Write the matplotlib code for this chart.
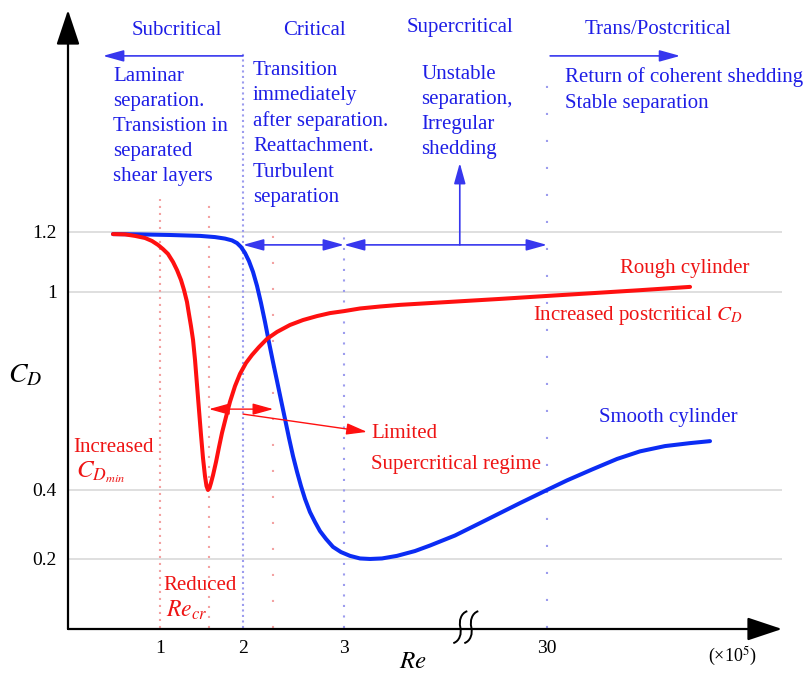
import numpy as np
import matplotlib
matplotlib.use("Agg")
import matplotlib.pyplot as plt
from matplotlib.path import Path
from matplotlib.patches import PathPatch
from matplotlib.transforms import ScaledTranslation, blended_transform_factory

plt.rcParams['font.family'] = ['Liberation Serif', 'DejaVu Serif']
plt.rcParams['mathtext.fontset'] = 'stix'

W, H = 808, 673

# ---- drag coefficient curves (Re in units of 1e5) ----
rough_re = [0.489, 0.620, 0.728, 0.837, 0.913, 0.978, 1.036, 1.096, 1.157, 1.205,
            1.253, 1.289, 1.325, 1.349, 1.373, 1.398, 1.422, 1.446, 1.470, 1.494,
            1.518, 1.542, 1.560, 1.578, 1.596, 1.614, 1.639, 1.675, 1.711, 1.747,
            1.795, 1.843, 1.904, 1.964, 2.030, 2.089, 2.158, 2.238, 2.337, 2.465,
            2.594, 2.733, 2.861, 3.0, 5.13, 7.79, 10.45, 17.10, 23.75,
            30.0, 35.49, 41.87, 48.26]
rough_cd = [1.193, 1.192, 1.187, 1.180, 1.170, 1.157, 1.143, 1.127, 1.100, 1.073,
            1.040, 1.007, 0.970, 0.933, 0.897, 0.855, 0.794, 0.718, 0.642, 0.567,
            0.497, 0.442, 0.412, 0.400, 0.406, 0.421, 0.445, 0.485, 0.530, 0.573,
            0.621, 0.667, 0.715, 0.752, 0.785, 0.809, 0.833, 0.858, 0.879, 0.900,
            0.915, 0.927, 0.936, 0.942, 0.950, 0.956, 0.961, 0.970, 0.979,
            0.988, 0.996, 1.006, 1.017]

smooth_re = [0.489, 0.783, 1.120, 1.482, 1.663, 1.783, 1.867, 1.928, 1.976, 2.020,
             2.059, 2.099, 2.139, 2.178, 2.218, 2.257, 2.297, 2.337, 2.376, 2.416,
             2.455, 2.495, 2.535, 2.574, 2.614, 2.663, 2.713, 2.762, 2.822, 2.891,
             2.970, 3.80, 5.13, 6.46, 8.05, 10.05, 12.44, 14.44, 17.76, 21.09,
             23.75, 26.41, 30.0, 32.55, 35.74, 38.94, 41.87, 45.06, 48.26, 50.81]
smooth_cd = [1.193, 1.192, 1.190, 1.187, 1.183, 1.178, 1.172, 1.163, 1.150, 1.130,
             1.103, 1.067, 1.020, 0.967, 0.909, 0.848, 0.788, 0.730, 0.673, 0.615,
             0.558, 0.503, 0.455, 0.412, 0.374, 0.336, 0.307, 0.281, 0.258, 0.235,
             0.220, 0.209, 0.2015, 0.200, 0.2015, 0.209, 0.223, 0.239, 0.268, 0.304,
             0.333, 0.362, 0.400, 0.429, 0.462, 0.494, 0.517, 0.533, 0.542, 0.548]

re_ticks = [1, 2, 3, 30]
re_tick_labels = ['1', '2', '3', '30']
cd_ticks = [0.2, 0.4, 1.0, 1.2]
cd_tick_labels = ['0.2', '0.4', '1', '1.2']

# regime boundaries: Re, top of guide in C_D, dot spacing in px
smooth_bounds = [2, 3, 30]
smooth_bound_tops = [1.80, 1.20, 1.757]
smooth_bound_spacing = [5.5, 10.5, 27]
rough_bounds = [1, 1.59, 2.30]
rough_bound_tops = [1.31, 1.31, 1.217]
rough_bound_spacing = [7, 10, 26]

LINE_BLUE = '#0b2cf4'
LINE_RED = '#ff1010'
TEXT_BLUE = '#1e1ee6'
TEXT_RED = '#ee1414'
ARROW_BLUE = '#3737ee'
DOT_BLUE = '#9c9cee'
DOT_RED = '#f3a2a2'
GRID = '#d9d9d9'

# schematic (broken) axes: piecewise-linear mapping to screen pixels
RE_KNOTS = [-1, 0, 1, 2, 3, 30, 60]
RE_PIX = [-24, 68, 160, 243, 344, 547, 782]
CD_KNOTS = [-0.1, 0, 0.2, 0.4, 1.0, 1.2, 2.0]
CD_PIX = [10.5, 45, 114, 183, 381, 441, 681]


def re_fwd(v):
    return np.interp(v, RE_KNOTS, RE_PIX)


def re_inv(p):
    return np.interp(p, RE_PIX, RE_KNOTS)


def cd_fwd(v):
    return np.interp(v, CD_KNOTS, CD_PIX)


def cd_inv(p):
    return np.interp(p, CD_PIX, CD_KNOTS)


fig = plt.figure(figsize=(W / 100, H / 100), dpi=100)
ax = fig.add_axes([68 / W, (H - 629) / H, (782 - 68) / W, (629 - 10) / H])
ax.set_xscale('function', functions=(re_fwd, re_inv))
ax.set_yscale('function', functions=(cd_fwd, cd_inv))
ax.set_xlim(0, 60)
ax.set_ylim(-0.003, 1.94)

for s in ax.spines.values():
    s.set_visible(False)

ax.set_xticks(re_ticks, re_tick_labels)
ax.set_yticks(cd_ticks, cd_tick_labels)
ax.tick_params(length=0, labelsize=14, pad=8)
ax.xaxis.set_minor_locator(matplotlib.ticker.NullLocator())
ax.yaxis.set_minor_locator(matplotlib.ticker.NullLocator())
ax.grid(axis='y', color=GRID, lw=1.2, zorder=0)
ax.set_axisbelow(True)

# regime guide lines
px_per_pt = 100 / 72
for xv, top, sp in zip(rough_bounds, rough_bound_tops, rough_bound_spacing):
    ax.plot([xv, xv], [0, top], color=DOT_RED, lw=1.5,
            ls=(0, (1, sp / (1.5 * px_per_pt) - 1)), zorder=1)
for xv, top, sp in zip(smooth_bounds, smooth_bound_tops, smooth_bound_spacing):
    ax.plot([xv, xv], [0, top], color=DOT_BLUE, lw=1.5,
            ls=(0, (1, sp / (1.5 * px_per_pt) - 1)), zorder=1)

# curves
ax.plot(rough_re, rough_cd, color=LINE_RED, lw=2.9, solid_joinstyle='round',
        solid_capstyle='round', zorder=4)
ax.plot(smooth_re, smooth_cd, color=LINE_BLUE, lw=2.9, solid_joinstyle='round',
        solid_capstyle='round', zorder=3)


def arrow(x0, y0, x1, y1, color, style, lw=1.2, ms=14):
    ax.annotate('', xy=(x1, y1), xytext=(x0, y0),
                arrowprops=dict(arrowstyle=style, color=color, lw=lw,
                                shrinkA=0, shrinkB=0, mutation_scale=ms),
                annotation_clip=False, zorder=5)


head = '-|>,head_length=0.9,head_width=0.25'
dbl = '<|-|>,head_length=0.9,head_width=0.25'
# regime arrows
arrow(2, 1.787, 0.38, 1.787, ARROW_BLUE, head)
arrow(30.4, 1.787, 47.0, 1.787, ARROW_BLUE, head)
arrow(2, 1.157, 3, 1.157, ARROW_BLUE, dbl)
arrow(3, 1.157, 30, 1.157, ARROW_BLUE, dbl)
arrow(18.4, 1.157, 18.4, 1.43, ARROW_BLUE, head)
# limited supercritical range
arrow(1.59, 0.645, 2.30, 0.645, LINE_RED, dbl, lw=1.0)
arrow(2.0, 0.630, 6.06, 0.576, LINE_RED, head, lw=1.0)

# axis arrows
axis_head = '-|>,head_length=1.2,head_width=0.4'
ax.annotate('', xy=(0, 1), xytext=(0, 0), xycoords='axes fraction',
            arrowprops=dict(arrowstyle=axis_head, color='black', lw=1.6,
                            shrinkA=0, shrinkB=0, mutation_scale=18),
            annotation_clip=False)
ax.annotate('', xy=(1, 0), xytext=(0, 0), xycoords='axes fraction',
            arrowprops=dict(arrowstyle=axis_head, color='black', lw=1.6,
                            shrinkA=0, shrinkB=0, mutation_scale=18),
            annotation_clip=False)

# axis break marks
BREAK_AT = 19.2
anchor = blended_transform_factory(ax.transData, ax.transAxes)
tr = fig.dpi_scale_trans + ScaledTranslation(BREAK_AT, 0.003, anchor)
for dx in (-0.055, 0.055):
    verts = [(dx - 0.07, -0.16), (dx - 0.005, -0.14), (dx + 0.015, -0.06), (dx, 0.0),
             (dx - 0.015, 0.06), (dx + 0.005, 0.14), (dx + 0.07, 0.16)]
    codes = [Path.MOVETO] + [Path.CURVE4] * 6
    ax.add_patch(PathPatch(Path(verts, codes), fill=False, lw=1.4, color='black',
                           transform=tr, clip_on=False, zorder=6))


def put(x, y, s, color, size=15, **kw):
    fig.text(x / W, 1 - y / H, s, color=color, fontsize=size, va='baseline', **kw)


def put_lines(x, y, lines, color, step=25, size=15):
    for i, line in enumerate(lines):
        put(x, y + i * step, line, color, size)


# regime headings
put(132, 35, 'Subcritical', TEXT_BLUE)
put(283, 35, 'Critical', TEXT_BLUE)
put(407, 32, 'Supercritical', TEXT_BLUE)
put(585, 34, 'Trans/Postcritical', TEXT_BLUE)

put_lines(113, 81, ['Laminar', 'separation.', 'Transistion in', 'separated',
                    'shear layers'], TEXT_BLUE)
put_lines(253, 75, ['Transition', 'immediately', 'after separation.', 'Reattachment.',
                    'Turbulent', 'separation'], TEXT_BLUE, step=25.4)
put_lines(421, 79, ['Unstable', 'separation,', 'Irregular', 'shedding'], TEXT_BLUE)
put_lines(565, 82, ['Return of coherent shedding', 'Stable separation'], TEXT_BLUE, step=26)

# curve annotations
put(620, 273, 'Rough cylinder', TEXT_RED)
put(533, 320, r'Increased postcritical $C_D$', TEXT_RED)
put(599, 422, 'Smooth cylinder', TEXT_BLUE)
put(371, 438, 'Limited', TEXT_RED)
put(371, 469, 'Supercritical regime', TEXT_RED)
put(73, 452, 'Increased', TEXT_RED)
put(76, 477, r'$C_{D_{min}}$', TEXT_RED, size=18)
put(163, 590, 'Reduced', TEXT_RED)
put(166, 617, r'$Re_{cr}$', TEXT_RED, size=17)

# axis titles
put(8, 382, r'$C_D$', 'black', size=20)
put(399, 668, r'$Re$', 'black', size=18)
put(708, 662, r'(×10$^{5}$)', 'black', size=13)

fig.savefig('out.png', dpi=100)
